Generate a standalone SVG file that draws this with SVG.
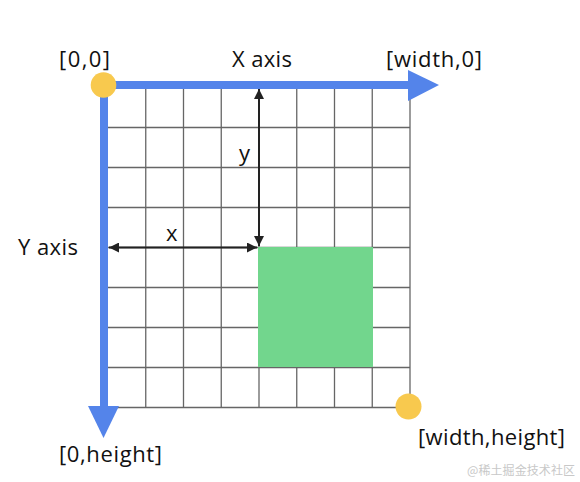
<svg xmlns="http://www.w3.org/2000/svg" width="580" height="482" viewBox="0 0 580 482">
<style>
.lbl{font-family:"Open Sans",Roboto,"Liberation Sans",sans-serif;font-size:22px;fill:#111}
.grid line{stroke:#666;stroke-width:1.3}
.axis{fill:#5484EA}
.dot{fill:#F8C94E}
.dim{stroke:#222;stroke-width:2;fill:none}
.wm{font-family:"Noto Sans CJK SC",sans-serif;font-size:12px;fill:#c8c8c8}
</style>
<defs>
<marker id="ah" viewBox="0 0 10 10" refX="10" refY="5" markerWidth="10" markerHeight="10" markerUnits="userSpaceOnUse" orient="auto-start-reverse">
<path d="M0,0 L10,5 L0,10 z" fill="#222"/>
</marker>
</defs>
<rect width="580" height="482" fill="#fff"/>
<g id="grid" class="grid">
<line x1="145.75" y1="88" x2="145.75" y2="407.5"/>
<line x1="183.5" y1="88" x2="183.5" y2="407.5"/>
<line x1="221.25" y1="88" x2="221.25" y2="407.5"/>
<line x1="259" y1="88" x2="259" y2="407.5"/>
<line x1="296.75" y1="88" x2="296.75" y2="407.5"/>
<line x1="334.5" y1="88" x2="334.5" y2="407.5"/>
<line x1="372.25" y1="88" x2="372.25" y2="407.5"/>
<line x1="410" y1="88" x2="410" y2="407.5"/>
<line x1="108" y1="127.5" x2="410" y2="127.5"/>
<line x1="108" y1="167.5" x2="410" y2="167.5"/>
<line x1="108" y1="207.5" x2="410" y2="207.5"/>
<line x1="108" y1="247.5" x2="410" y2="247.5"/>
<line x1="108" y1="287.5" x2="410" y2="287.5"/>
<line x1="108" y1="327.5" x2="410" y2="327.5"/>
<line x1="108" y1="367.5" x2="410" y2="367.5"/>
<line x1="108" y1="407.5" x2="410" y2="407.5"/>
</g>
<g id="square"><rect x="258" y="247" width="115" height="120" fill="#72D68D"/></g>
<g id="x-axis">
<rect class="axis" x="100" y="81" width="310" height="8"/>
<path class="axis" d="M408,70 L439,85 L408,101 z"/>
</g>
<g id="y-axis">
<rect class="axis" x="100" y="85" width="8" height="323"/>
<path class="axis" d="M88,406 L119,406 L103.5,438 z"/>
</g>
<g id="connectors">
<line class="dim" x1="259" y1="89" x2="259" y2="246" marker-start="url(#ah)" marker-end="url(#ah)"/>
<line class="dim" x1="109" y1="247.5" x2="257" y2="247.5" marker-start="url(#ah)" marker-end="url(#ah)"/>
</g>
<g id="origin"><circle class="dot" cx="103.5" cy="85" r="12.8"/></g>
<g id="corner"><circle class="dot" cx="408.5" cy="406.5" r="13"/></g>
<g id="labels">
<text class="lbl" x="59" y="67" textLength="51">[0,0]</text>
<text class="lbl" x="232" y="67" textLength="60">X axis</text>
<text class="lbl" x="386" y="67" textLength="96">[width,0]</text>
<text class="lbl" x="18" y="255" textLength="60">Y axis</text>
<text class="lbl" x="239" y="161">y</text>
<text class="lbl" x="166" y="241">x</text>
<text class="lbl" x="59" y="462" textLength="103">[0,height]</text>
<text class="lbl" x="418" y="445" textLength="147">[width,height]</text>
<text class="wm" x="467" y="475" textLength="108">@稀土掘金技术社区</text>
</g>
</svg>
